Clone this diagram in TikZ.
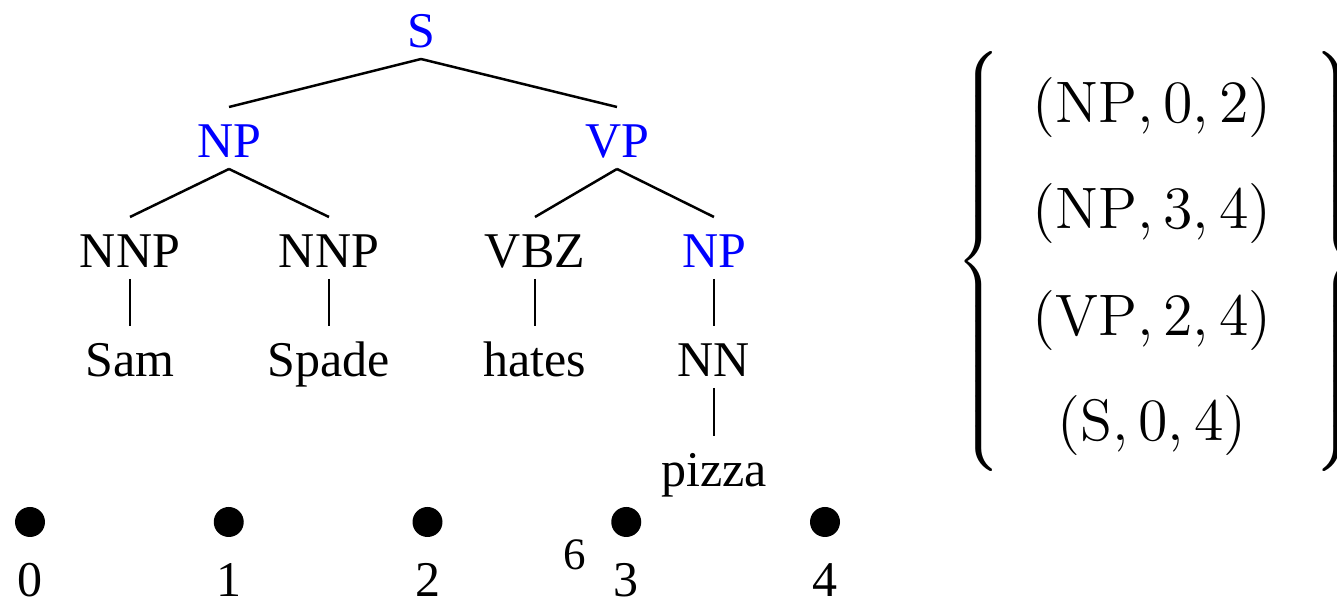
\documentclass[tikz,border=0pt]{standalone}
\usepackage{fontspec}
\newfontfamily\treefont{Liberation Serif}
\definecolor{catblue}{RGB}{0,0,255}
\tikzset{
  tnode/.style={font=\treefont\fontsize{10}{12}\selectfont, text height=8pt, text depth=0pt, inner sep=2pt, anchor=base},
  cat/.style={tnode, text=catblue},
  edge/.style={line width=0.5pt},
  spanpt/.style={circle, fill=black, inner sep=0pt, minimum size=6pt},
  idx/.style={font=\treefont\fontsize{10}{12}\selectfont, inner sep=0pt, anchor=base},
  span/.style={font=\fontsize{11.7}{14}\selectfont, inner sep=0pt, anchor=base},
  brace/.style={font=\fontsize{16}{19}\selectfont, inner sep=0pt}
}
\begin{document}
\begin{tikzpicture}[x=0.2pt, y=-0.2pt]
    \useasboundingbox (0,0) rectangle (1337,597);
    % tree
    \node[cat] (s) at (421,48) {S};
    \node[cat] (np) at (229,158) {NP};
    \node[cat] (vp) at (617,158) {VP};
    \node[tnode] (nnp1) at (130,268) {NNP};
    \node[tnode] (nnp2) at (329,268) {NNP};
    \node[tnode] (vbz) at (535,268) {VBZ};
    \node[cat] (np2) at (714,268) {NP};
    \node[tnode] (sam) at (130,377) {Sam};
    \node[tnode] (spade) at (329,377) {Spade};
    \node[tnode] (hates) at (535,377) {hates};
    \node[tnode] (nn) at (714,377) {NN};
    \node[tnode] (pizza) at (714,487) {pizza};
    \draw[edge] (s.south) -- (np.north);
    \draw[edge] (s.south) -- (vp.north);
    \draw[edge] (np.south) -- (nnp1.north);
    \draw[edge] (np.south) -- (nnp2.north);
    \draw[edge] (vp.south) -- (vbz.north);
    \draw[edge] (vp.south) -- (np2.north);
    \draw[edge] (nnp1.south) -- (sam.north);
    \draw[edge] (nnp2.south) -- (spade.north);
    \draw[edge] (vbz.south) -- (hates.north);
    \draw[edge] (np2.south) -- (nn.north);
    \draw[edge] (nn.south) -- (pizza.north);
    % positions
    \foreach \i in {0,...,4} {
        \node[spanpt] (p\i) at (30+198.75*\i,522) {};
        \node[idx] (n\i) at (30+198.75*\i,597) {\i};
    }
    \node[idx, font=\treefont\fontsize{9}{11}\selectfont] (note) at (575,570) {6};
    % set of spans
    \node[brace, anchor=west] (lbrace) at (955,262) {$\left\{\vcenter{\hbox{\rule{0pt}{89pt}}}\right.$};
    \node[brace, anchor=west] (rbrace) at (1307,262) {$\left.\vcenter{\hbox{\rule{0pt}{89pt}}}\right\}$};
    \node[span] (r1) at (1152,123) {$(\mathrm{NP}, 0, 2)$};
    \node[span] (r2) at (1152,229) {$(\mathrm{NP}, 3, 4)$};
    \node[span] (r3) at (1152,336) {$(\mathrm{VP}, 2, 4)$};
    \node[span] (r4) at (1152,441) {$(\mathrm{S}, 0, 4)$};
\end{tikzpicture}
\end{document}
